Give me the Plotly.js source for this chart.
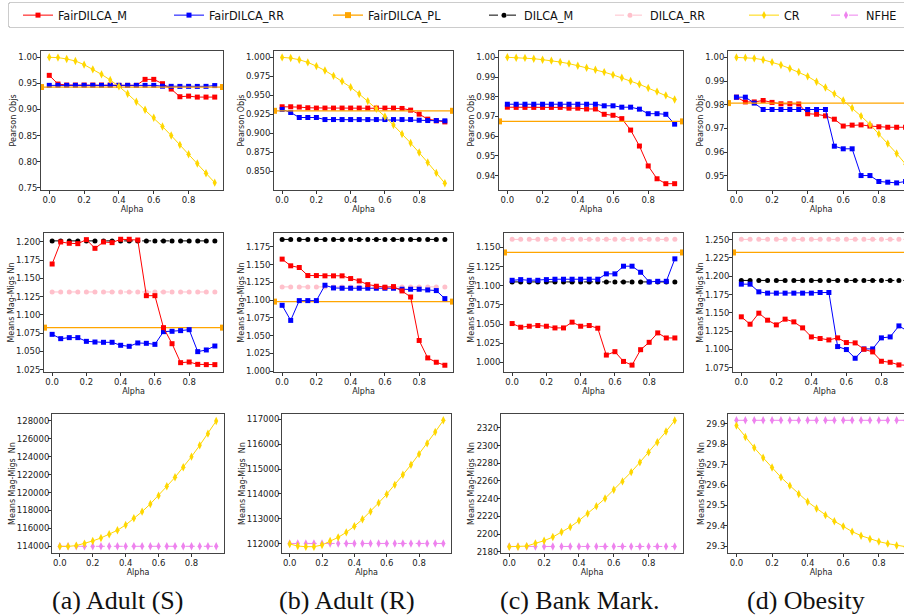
<!DOCTYPE html>
<html><head><meta charset="utf-8">
<script src="https://cdn.plot.ly/plotly-3.0.1.min.js"></script>
<style>html,body{margin:0;padding:0;overflow:hidden;background:#fff;width:904px;height:615px}</style>
</head><body><div id="chart" style="width:1000px;height:615px"></div>
<script>
const alpha = [0,0.05,0.1,0.15,0.2,0.25,0.3,0.35,0.4,0.45,0.5,0.55,0.6,0.65,0.7,0.75,0.8,0.85,0.9,0.95];
const xTicks = [0,0.2,0.4,0.6,0.8];
const captions = ['(a) Adult (S)','(b) Adult (R)','(c) Bank Mark.','(d) Obesity'];
const yTitles = ['Pearson Objs','Means Mag-Migs Nn','Means Mag-Migs \u00a0Nn'];

// Row 1: Pearson Objs
const adultS_pearson_M  = [0.9654,0.9487,0.9468,0.9468,0.9468,0.9468,0.9468,0.9468,0.9462,0.9462,0.9462,0.9577,0.9577,0.9494,0.9391,0.9244,0.9256,0.9237,0.9237,0.9237];
const adultS_pearson_RR = [0.9462,0.9462,0.9462,0.9462,0.9462,0.9462,0.9462,0.9462,0.9462,0.9462,0.9462,0.9462,0.9462,0.9446,0.9443,0.9442,0.9443,0.9442,0.9443,0.9458];
const adultS_pearson_PL = 0.943;
const adultS_pearson_CR = [1.0,0.9994,0.9968,0.9929,0.9859,0.9769,0.9673,0.9564,0.9442,0.9301,0.9147,0.8994,0.8840,0.8673,0.8500,0.8321,0.8141,0.7962,0.7776,0.7596];

const adultR_pearson_M  = [0.9350,0.9350,0.9346,0.9337,0.9333,0.9333,0.9333,0.9333,0.9333,0.9333,0.9333,0.9333,0.9333,0.9333,0.9328,0.9306,0.9253,0.9187,0.9165,0.9151];
const adultR_pearson_RR = [0.9315,0.9275,0.9209,0.9209,0.9209,0.9182,0.9182,0.9182,0.9182,0.9182,0.9182,0.9182,0.9182,0.9182,0.9182,0.9182,0.9173,0.9169,0.9169,0.9165];
const adultR_pearson_PL = 0.9297;
const adultR_pearson_CR = [1.0,0.9991,0.9969,0.9934,0.9885,0.9827,0.9757,0.9686,0.9607,0.9518,0.9425,0.9324,0.9222,0.9111,0.8992,0.8873,0.8749,0.8617,0.8480,0.8343];

const bank_pearson_M  = [0.9747,0.9746,0.9746,0.9746,0.9746,0.9746,0.9746,0.9742,0.9742,0.9738,0.9738,0.9711,0.9706,0.9689,0.9631,0.9550,0.9449,0.9384,0.9359,0.9359];
const bank_pearson_RR = [0.9762,0.9762,0.9762,0.9762,0.9762,0.9762,0.9762,0.9762,0.9762,0.9762,0.9762,0.9754,0.9754,0.9747,0.9747,0.9737,0.9714,0.9714,0.9711,0.9661];
const bank_pearson_PL = 0.9675;
const bank_pearson_CR = [1.0,0.9998,0.9997,0.9993,0.9988,0.9983,0.9976,0.9968,0.9957,0.9947,0.9937,0.9925,0.9911,0.9896,0.9880,0.9863,0.9844,0.9826,0.9807,0.9786];

const obesity_pearson_M  = [0.9832,0.9812,0.9812,0.9818,0.9810,0.9804,0.9804,0.9803,0.9762,0.9760,0.9753,0.9739,0.9710,0.9714,0.9715,0.9710,0.9707,0.9705,0.9705,0.9705];
const obesity_pearson_RR = [0.9832,0.9832,0.9807,0.9780,0.9780,0.9780,0.9780,0.9780,0.9780,0.9780,0.9780,0.9625,0.9614,0.9614,0.9501,0.9501,0.9476,0.9473,0.9470,0.9476];
const obesity_pearson_PL = 0.9807;
const obesity_pearson_CR = [1.0,0.9999,0.9996,0.9990,0.9980,0.9968,0.9953,0.9938,0.9920,0.9897,0.9873,0.9846,0.9818,0.9786,0.9752,0.9717,0.9677,0.9636,0.9594,0.9549];

// Row 2: Means Mag-Migs Nn
const adultS_mm_M   = [1.1698,1.2000,1.1982,1.1977,1.2032,1.1913,1.2000,1.1991,1.2037,1.2037,1.2027,1.1264,1.1264,1.0826,1.0606,1.0346,1.0355,1.0323,1.0319,1.0319];
const adultS_mm_RR  = [1.0734,1.0675,1.0689,1.0689,1.0638,1.0629,1.0625,1.0625,1.0584,1.0570,1.0616,1.0611,1.0597,1.0771,1.0776,1.0785,1.0798,1.0497,1.0520,1.0574];
const adultS_mm_PL  = 1.0826;
const adultS_mm_DM  = [1.2015,1.2015,1.2015,1.2015,1.2015,1.2015,1.2015,1.2015,1.2015,1.2015,1.2015,1.2015,1.2015,1.2015,1.2015,1.2015,1.2015,1.2015,1.2015,1.2015];
const adultS_mm_DRR = [1.1315,1.1315,1.1315,1.1315,1.1315,1.1315,1.1315,1.1315,1.1315,1.1315,1.1315,1.1315,1.1315,1.1315,1.1315,1.1315,1.1315,1.1315,1.1315,1.1315];

const adultR_mm_M   = [1.1576,1.1482,1.1458,1.1345,1.1345,1.1341,1.1341,1.1341,1.1303,1.1270,1.1218,1.1195,1.1181,1.1190,1.1129,1.1044,1.0433,1.0188,1.0127,1.0085];
const adultR_mm_RR  = [1.0927,1.0715,1.0993,1.0993,1.0993,1.1209,1.1171,1.1167,1.1167,1.1167,1.1167,1.1167,1.1167,1.1167,1.1153,1.1153,1.1153,1.1143,1.1134,1.1021];
const adultR_mm_PL  = 1.0979;
const adultR_mm_DM  = [1.1853,1.1853,1.1853,1.1853,1.1853,1.1853,1.1853,1.1853,1.1853,1.1853,1.1853,1.1853,1.1853,1.1853,1.1853,1.1853,1.1853,1.1853,1.1853,1.1853];
const adultR_mm_DRR = [1.1186,1.1186,1.1186,1.1186,1.1186,1.1186,1.1186,1.1186,1.1186,1.1186,1.1186,1.1186,1.1186,1.1186,1.1186,1.1186,1.1186,1.1186,1.1186,1.1186];

const bank_mm_M   = [1.0507,1.0459,1.0472,1.0481,1.0472,1.0450,1.0450,1.0525,1.0472,1.0481,1.0446,1.0096,1.0140,1.0013,0.9965,1.0166,1.0262,1.0385,1.0319,1.0319];
const bank_mm_RR  = [1.1071,1.1080,1.1071,1.1071,1.1080,1.1085,1.1085,1.1085,1.1085,1.1085,1.1085,1.1155,1.1155,1.1255,1.1255,1.1176,1.1050,1.1058,1.1058,1.1351];
const bank_mm_PL  = 1.1434;
const bank_mm_DM  = [1.1050,1.1050,1.1050,1.1050,1.1050,1.1050,1.1050,1.1050,1.1050,1.1050,1.1050,1.1050,1.1050,1.1050,1.1050,1.1050,1.1050,1.1050,1.1050,1.1050];
const bank_mm_DRR = [1.1605,1.1605,1.1605,1.1605,1.1605,1.1605,1.1605,1.1605,1.1605,1.1605,1.1605,1.1605,1.1605,1.1605,1.1605,1.1605,1.1605,1.1605,1.1605,1.1605];

const obesity_mm_M   = [1.1445,1.1344,1.1495,1.1399,1.1335,1.1413,1.1376,1.1294,1.1170,1.1148,1.1129,1.1157,1.1093,1.1088,1.1001,1.0965,1.0837,1.0823,1.0787,1.0782];
const obesity_mm_RR  = [1.1892,1.1892,1.1787,1.1769,1.1769,1.1769,1.1769,1.1769,1.1769,1.1778,1.1778,1.1038,1.0997,1.0878,1.1006,1.1006,1.1157,1.1170,1.1321,1.1248];
const obesity_mm_PL  = 1.2326;
const obesity_mm_DM  = [1.1943,1.1943,1.1943,1.1943,1.1943,1.1943,1.1943,1.1943,1.1943,1.1943,1.1943,1.1943,1.1943,1.1943,1.1943,1.1943,1.1943,1.1943,1.1943,1.1943];
const obesity_mm_DRR = [1.2505,1.2505,1.2505,1.2505,1.2505,1.2505,1.2505,1.2505,1.2505,1.2505,1.2505,1.2505,1.2505,1.2505,1.2505,1.2505,1.2505,1.2505,1.2505,1.2505];

// Row 3: Means Mag-Migs  Nn (absolute)
const adultS_abs_CR   = [113990,113990,114074,114300,114597,114933,115340,115790,116384,117130,117870,118730,119660,120700,121710,122825,124016,125280,126585,128000];
const adultS_abs_NFHE = [114000,114000,114000,114000,114000,114000,114000,114000,114000,114000,114000,114000,114000,114000,114000,114000,114000,114000,114000,114000];
const adultR_abs_CR   = [111990,111906,111880,111880,111947,112108,112256,112457,112700,112981,113290,113640,113990,114366,114770,115172,115602,116032,116489,116960];
const adultR_abs_NFHE = [112010,112010,112010,112010,112010,112010,112010,112010,112010,112010,112010,112010,112010,112010,112010,112010,112010,112010,112010,112010];
const bank_abs_CR     = [2185.7,2185.7,2186.4,2189.5,2192.5,2196.6,2202.3,2208.0,2215.2,2223.1,2231.5,2240.2,2250.0,2259.5,2270.0,2281.0,2292.4,2303.7,2315.8,2328.3];
const bank_abs_NFHE   = [2186,2186,2186,2186,2186,2186,2186,2186,2186,2186,2186,2186,2186,2186,2186,2186,2186,2186,2186,2186];
const obesity_abs_CR  = [29.892,29.836,29.783,29.734,29.686,29.638,29.597,29.556,29.518,29.485,29.452,29.422,29.397,29.371,29.351,29.335,29.322,29.312,29.303,29.297];
const obesity_abs_NFHE= [29.918,29.918,29.918,29.918,29.918,29.918,29.918,29.918,29.918,29.918,29.918,29.918,29.918,29.918,29.918,29.918,29.918,29.918,29.918,29.918];

// ---------- layout geometry (pixels) ----------
const W = 1000, H = 615;
const xRange = [-0.0475, 0.9975];
const colL = [[41,274,499,728],[44,274,504,733],[52,282,501,728]];
const colR = [[223,453,683,914],[223,453,683,916],[224,451,683,914]];
const rowT = [51,233,414], rowB = [190,372,553];
const yAxisCfg = [
  [[0.7455,1.0121],0.75,0.05,'.2f'],[[0.8255,1.0084],0.85,0.025,'.3f'],[[0.9327,1.0032],0.94,0.01,'.2f'],[[0.9440,1.0027],0.95,0.01,'.2f'],
  [[1.0218,1.2123],1.025,0.025,'.3f'],[[0.9990,1.1943],1.0,0.025,'.3f'],[[0.9875,1.1688],1.0,0.025,'.3f'],[[1.0690,1.2592],1.075,0.025,'.3f'],
  [[113250,128780],114000,2000,'d'],[[111626,117214],112000,1000,'d'],[[2178.6,2335.6],2180,20,'d'],[[29.266,29.949],29.3,0.1,'.1f']
];
const legendTextX = [58,209,368,524,650,784,866];

const styles = {
  FairDILCA_M:  {line:{color:'#ff0000',width:1}, marker:{symbol:'square',size:5,color:'#ff0000'}},
  FairDILCA_RR: {line:{color:'#0000ff',width:1}, marker:{symbol:'square',size:5,color:'#0000ff'}},
  FairDILCA_PL: {line:{color:'#ffa500',width:1.3}, marker:{symbol:'square',size:6,color:'#ffa500'}},
  DILCA_M:      {line:{color:'#000000',width:1,dash:'dash'}, marker:{symbol:'circle',size:5,color:'#000000'}},
  DILCA_RR:     {line:{color:'#ffc0cb',width:1,dash:'dash'}, marker:{symbol:'circle',size:5,color:'#ffc0cb'}},
  CR:           {line:{color:'#ffd700',width:1}, marker:{symbol:'diamond-tall',size:6,color:'#ffd700'}},
  NFHE:         {line:{color:'#ee82ee',width:1,dash:'dash'}, marker:{symbol:'diamond-tall',size:6,color:'#ee82ee'}}
};
const rank = {FairDILCA_M:1,FairDILCA_RR:2,FairDILCA_PL:3,DILCA_M:4,DILCA_RR:5,CR:6,NFHE:7};
const shown = {};
const traces = [];
function add(p, name, x, y) {
  const s = styles[name];
  traces.push({type:'scatter', mode:'lines+markers', x:x, y:y, name:name,
    xaxis:'x'+p, yaxis:'y'+p, showlegend: !shown[name], legendrank: rank[name],
    line: s.line, marker: s.marker, cliponaxis: true});
  shown[name] = true;
}
function addPL(p, v) { add(p, 'FairDILCA_PL', xRange, [v, v]); }

// Row 1
add(1,'FairDILCA_M',alpha,adultS_pearson_M); add(1,'FairDILCA_RR',alpha,adultS_pearson_RR); addPL(1,adultS_pearson_PL); add(1,'CR',alpha,adultS_pearson_CR);
add(2,'FairDILCA_M',alpha,adultR_pearson_M); add(2,'FairDILCA_RR',alpha,adultR_pearson_RR); addPL(2,adultR_pearson_PL); add(2,'CR',alpha,adultR_pearson_CR);
add(3,'FairDILCA_M',alpha,bank_pearson_M); add(3,'FairDILCA_RR',alpha,bank_pearson_RR); addPL(3,bank_pearson_PL); add(3,'CR',alpha,bank_pearson_CR);
add(4,'FairDILCA_M',alpha,obesity_pearson_M); add(4,'FairDILCA_RR',alpha,obesity_pearson_RR); addPL(4,obesity_pearson_PL); add(4,'CR',alpha,obesity_pearson_CR);
// Row 2
add(5,'DILCA_M',alpha,adultS_mm_DM); add(5,'DILCA_RR',alpha,adultS_mm_DRR); addPL(5,adultS_mm_PL); add(5,'FairDILCA_RR',alpha,adultS_mm_RR); add(5,'FairDILCA_M',alpha,adultS_mm_M);
add(6,'DILCA_M',alpha,adultR_mm_DM); add(6,'DILCA_RR',alpha,adultR_mm_DRR); addPL(6,adultR_mm_PL); add(6,'FairDILCA_RR',alpha,adultR_mm_RR); add(6,'FairDILCA_M',alpha,adultR_mm_M);
add(7,'DILCA_M',alpha,bank_mm_DM); add(7,'DILCA_RR',alpha,bank_mm_DRR); addPL(7,bank_mm_PL); add(7,'FairDILCA_RR',alpha,bank_mm_RR); add(7,'FairDILCA_M',alpha,bank_mm_M);
add(8,'DILCA_M',alpha,obesity_mm_DM); add(8,'DILCA_RR',alpha,obesity_mm_DRR); addPL(8,obesity_mm_PL); add(8,'FairDILCA_RR',alpha,obesity_mm_RR); add(8,'FairDILCA_M',alpha,obesity_mm_M);
// Row 3
add(9,'NFHE',alpha,adultS_abs_NFHE); add(9,'CR',alpha,adultS_abs_CR);
add(10,'NFHE',alpha,adultR_abs_NFHE); add(10,'CR',alpha,adultR_abs_CR);
add(11,'NFHE',alpha,bank_abs_NFHE); add(11,'CR',alpha,bank_abs_CR);
add(12,'NFHE',alpha,obesity_abs_NFHE); add(12,'CR',alpha,obesity_abs_CR);

const tickFont = {family:'DejaVu Sans', size:8.5, color:'#222'};
const titleFont = {family:'DejaVu Sans', size:8, color:'#222'};
const layout = {
  width: W, height: H, margin:{l:0,r:0,t:0,b:0},
  paper_bgcolor:'#fff', plot_bgcolor:'#fff',
  showlegend: true,
  legend: {orientation:'h', x:8/W, xanchor:'left', y:1-2/H, yanchor:'top',
    bordercolor:'#cccccc', borderwidth:1, bgcolor:'#fff',
    font:{family:'DejaVu Sans Condensed, DejaVu Sans', size:12.5, color:'#111'}},
  annotations: [], font:{family:'DejaVu Sans'}
};
for (let r = 0; r < 3; r++) {
  for (let c = 0; c < 4; c++) {
    const p = r*4 + c + 1;
    const cfg = yAxisCfg[p-1];
    layout['xaxis'+p] = {domain:[colL[r][c]/W, colR[r][c]/W], anchor:'y'+p, range:xRange,
      tickvals:xTicks, tickformat:'.1f', ticks:'outside', ticklen:3, tickcolor:'#333',
      showline:true, mirror:true, linecolor:'#444', linewidth:1, showgrid:false, zeroline:false,
      tickfont:tickFont, automargin:false, ticklabelstandoff:-1,
      title:{text:'Alpha', font:titleFont, standoff:0}};
    layout['yaxis'+p] = {domain:[1-rowB[r]/H, 1-rowT[r]/H], anchor:'x'+p, range:cfg[0],
      tick0:cfg[1], dtick:cfg[2], tickformat:cfg[3], ticks:'outside', ticklen:3, tickcolor:'#333',
      showline:true, mirror:true, linecolor:'#444', linewidth:1, showgrid:false, zeroline:false,
      tickfont:tickFont, automargin:false, ticklabelstandoff:(r === 2 ? -3 : -2),
      title:{text:yTitles[r], font:titleFont, standoff:0}};
  }
}
const capX = [117, 347, 580, 806];
for (let c = 0; c < 4; c++) {
  layout.annotations.push({text:captions[c], xref:'paper', yref:'paper', x:capX[c]/W, y:1-600/H,
    xanchor:'center', yanchor:'middle', showarrow:false,
    font:{family:'Liberation Serif', size:26, color:'#111'}});
}
Plotly.newPlot('chart', traces, layout, {displayModeBar:false, staticPlot:true}).then(function(gd){
  // spread legend entries to match the reference spacing, and trim the box height
  const base = gd.getBoundingClientRect().left;
  const items = gd.querySelectorAll('g.legend g.traces');
  items.forEach(function(g, i){
    const t = g.querySelector('text.legendtext');
    if (!t || legendTextX[i] === undefined) return;
    const cur = t.getBoundingClientRect().left - base;
    const m = /translate\(\s*([-\d.e]+)[\s,]*([-\d.e]+)?\s*\)/.exec(g.getAttribute('transform') || 'translate(0,0)');
    const x = parseFloat(m[1]), y = parseFloat(m[2] || 0);
    g.setAttribute('transform', 'translate(' + (x + legendTextX[i] - cur) + ',' + (y - 2.5) + ')');
  });
  gd.querySelectorAll('g.legend rect.bg').forEach(function(r){
    r.setAttribute('width', 1000); r.setAttribute('height', 25); r.setAttribute('rx', 3); r.setAttribute('ry', 3);
  });
  document.querySelectorAll('clipPath[id^="legend"] rect').forEach(function(r){ r.setAttribute('width', 1000); });
});
</script></body></html>
